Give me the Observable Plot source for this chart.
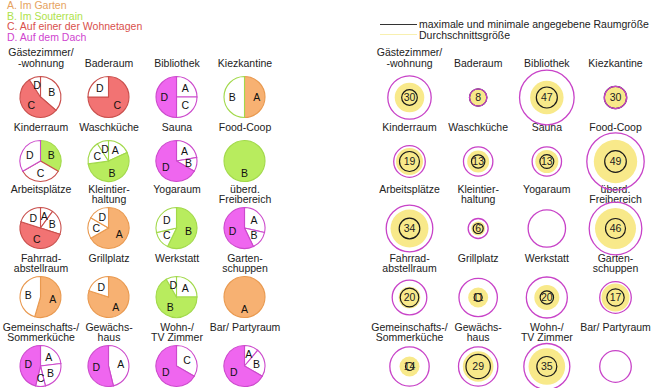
<!DOCTYPE html>
<html><head><meta charset="utf-8">
<script src="https://cdn.jsdelivr.net/npm/d3@7"></script>
<script src="https://cdn.jsdelivr.net/npm/@observablehq/plot@0.6"></script>
<style>
body{margin:0;background:#fff;font-family:"Liberation Sans",Arial,sans-serif;}
#wrap{width:660px;}
#legend{position:relative;height:44px;font-size:10.5px;line-height:10.5px;}
#legL{position:absolute;left:7px;top:0px;}
#legR{position:absolute;left:380px;top:19px;color:#222;}
#legR div{display:flex;align-items:center;height:10.5px;}
#legR span.sw{display:inline-block;width:37px;height:0;margin-right:2px;}
#charts{display:flex;}
</style></head><body>
<div id="wrap">
  <div id="legend">
    <div id="legL"></div>
    <div id="legR"></div>
  </div>
  <div id="charts"></div>
</div>
<script>
// ---- data ----
const rooms = ["Gästezimmer/\n-wohnung","Baderaum","Bibliothek","Kiezkantine",
  "Kinderraum","Waschküche","Sauna","Food-Coop",
  "Arbeitsplätze","Kleintier-\nhaltung","Yogaraum","überd.\nFreibereich",
  "Fahrrad-\nabstellraum","Grillplatz","Werkstatt","Garten-\nschuppen",
  "Gemeinschafts-/\nSommerküche","Gewächs-\nhaus","Wohn-/\nTV Zimmer","Bar/ Partyraum"];
const categories = ["A","B","C","D"];
const categoryNames = ["A. Im Garten","B. Im Souterrain","C. Auf einer der Wohnetagen","D. Auf dem Dach"];
// location preferences per room (A garden, B basement, C living floors, D roof)
const gardenA   = [0,0,1,1, 0,2,2,0, 1,4,0,2, 6,4,3,1, 3,6,0,1];
const basementB = [4,0,0,1, 1,6,1,1, 2,0,4,1, 5,0,8,0, 3,0,0,2];
const floorC    = [6,3,1,0, 1,2,0,0, 5,1,1,0, 0,0,0,0, 1,0,1,0];
const roofD     = [1,1,2,0, 1,1,6,0, 2,1,2,4, 0,1,1,0, 6,7,2,6];
// room sizes in m² (estimated from circle areas)
const maxSize = [52.3,8.4,82.8,13.9, 27.7,24,24,91.5, 60.3,11.1,38.9,76.9, 33.3,41,46.7,27.7, 43,43,58.8,27.7];
const minSize = [6.8,8.4,12.3,13.9, 11.1,5,5.4,13, 11.8,2.8,null,11.1, 9.6,1.8,5,8.4, 1.8,16.5,11.1,null];
const avgSize = [24.3,7.7,31,13.4, 20.3,13.4,14.7,52.3, 40,5.4,null,46.7, 13,11.1,17.4,21.8, 11.1,26,37.2,null];
const avgLabel = [30,8,47,30, 19,13,13,49, 34,6,null,46, 20,11,20,17, 14,29,35,null];

// ---- styles ----
const fillColor = {A:"#f7b172", B:"#b8ec5e", C:"#f27373", D:"#ef66ef"};
const lineColor = {A:"#e9994f", B:"#a2d94b", C:"#c94f4c", D:"#cc4acc"};
const legendColor = {A:"#e6a25e", B:"#aee24a", C:"#d9504c", D:"#cf45cf"};
const font = '"Liberation Sans", Arial, sans-serif';
const series = [gardenA, basementB, floorC, roofD];
const idx = rooms.map((d,i)=>i);
const col = i => i % 4, row = i => Math.floor(i / 4);

// legends
const legL = d3.select("#legL");
categoryNames.forEach((t,k)=> legL.append("div").style("color", legendColor[categories[k]]).text(t));
const legR = d3.select("#legR");
legR.append("div").html('<span class="sw" style="border-top:1px solid #333"></span>maximale und minimale angegebene Raumgröße');
legR.append("div").html('<span class="sw" style="border-top:1.5px solid #f8f0b0"></span>Durchschnittsgröße');

const yScale = {domain:[0,1,2,3,4], range:[53,117,184,253,322], axis:null};
function labelMarks() {
  return [
    Plot.text(idx, {filter: i => row(i) < 2, x: col, y: row, text: i => rooms[i],
      lineAnchor: "bottom", dy: -31, fontSize: 10.5, lineHeight: 1, fill: "#222", fontFamily: font}),
    Plot.text(idx, {filter: i => row(i) >= 2, x: col, y: row, text: i => rooms[i],
      lineAnchor: "top", dy: -43, fontSize: 10.5, lineHeight: 1, fill: "#222", fontFamily: font})
  ];
}

function pieMark(index, scales) {
  const R = 20.5;
  const g = d3.create("svg:g");
  const arc = d3.arc().innerRadius(0).outerRadius(R);
  const labelArc = d3.arc().innerRadius(R*0.6).outerRadius(R*0.6);
  rooms.forEach((name, i) => {
    const vals = categories.map((c,k)=>({cat:c, v:series[k][i]})).filter(d=>d.v>0);
    const max = d3.max(vals, d=>d.v);
    const first = vals.find(d=>d.v===max).cat;
    const arcs = d3.pie().sort(null).value(d=>d.v)(vals);
    const gg = g.append("g").attr("transform", `translate(${scales.x(col(i))},${scales.y(row(i))})`);
    gg.selectAll("path").data(arcs).join("path")
      .attr("d", arc)
      .attr("fill", d => d.data.cat === first ? fillColor[d.data.cat] : "#fff")
      .attr("stroke", d => d.data.v === max ? lineColor[d.data.cat] : lineColor[first])
      .attr("stroke-width", 1.1);
    gg.selectAll("text").data(arcs).join("text")
      .attr("transform", d => `translate(${labelArc.centroid(d)})`)
      .attr("text-anchor","middle").attr("dy","0.36em")
      .attr("font-size", 10.5).attr("font-family", font).attr("fill","#111")
      .text(d => d.data.cat);
  });
  return g.node();
}

const left = Plot.plot({
  width: 330, height: 344, margin: 0,
  style: {fontFamily: font, background: "#fff"},
  x: {type:"linear", domain:[0,3], range:[40.5,244.5], axis:null},
  y: {type:"linear", ...yScale},
  marks: [...labelMarks(), pieMark]
});

const right = Plot.plot({
  width: 330, height: 344, margin: 0,
  style: {fontFamily: font, background: "#fff"},
  x: {type:"linear", domain:[0,3], range:[79,285], axis:null},
  y: {type:"linear", ...yScale},
  r: {type:"sqrt", domain:[0,100], range:[0,30]},
  marks: [
    ...labelMarks(),
    Plot.dot(idx.filter(i=>avgSize[i]!=null), {x: col, y: row, r: i=>avgSize[i], fill:"#f8e98a", stroke:null}),
    Plot.dot(idx.filter(i=>minSize[i]!=null), {x: col, y: row, r: i=>minSize[i], fill:"none", stroke:"#1a1a1a", strokeWidth:1.2}),
    Plot.dot(idx, {x: col, y: row, r: i=>maxSize[i], fill:"none", stroke:"#c843c8", strokeWidth:1.3}),
    Plot.text(idx.filter(i=>avgLabel[i]!=null), {x: col, y: row, text: i=>String(avgLabel[i]), fontSize: 10.5, fill:"#222", fontFamily: font})
  ]
});

document.getElementById("charts").append(left, right);
</script>
</body></html>
